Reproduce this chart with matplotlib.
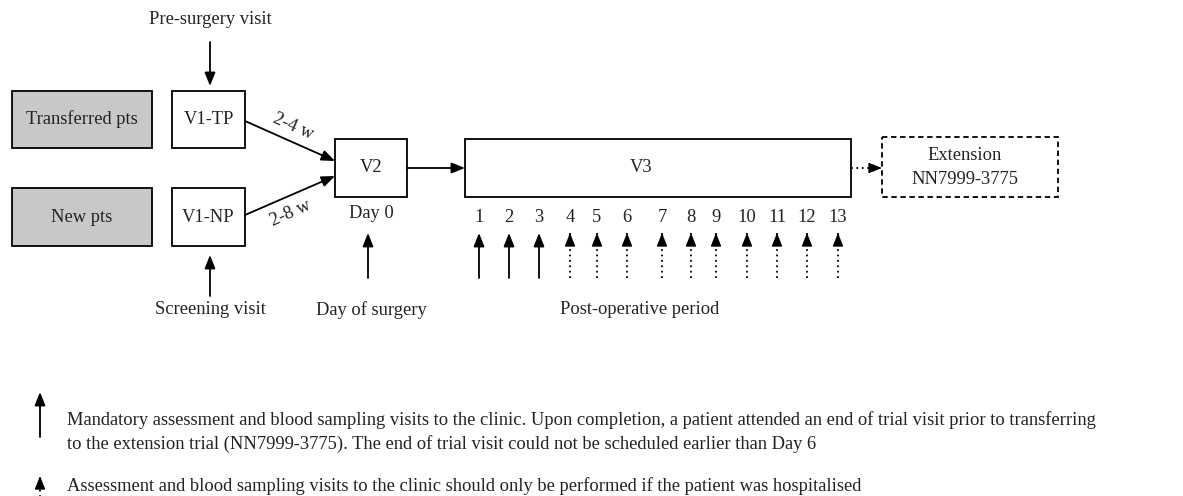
import matplotlib.pyplot as plt
from matplotlib.patches import Rectangle

plt.rcParams['font.family'] = ['Liberation Serif', 'DejaVu Serif']

# labels of the flow chart
group_labels = ['Transferred pts', 'New pts']
v1_labels = ['V1-TP', 'V1-NP']
interval_labels = ['2-4 w', '2-8 w']
visit_numbers = list(range(1, 14))
mandatory = [True, True, True] + [False] * 10
bottom_labels = ['Screening visit', 'Day of surgery', 'Post-operative period']
legend_text = [
    'Mandatory assessment and blood sampling visits to the clinic. Upon completion, '
    'a patient attended an end of trial visit prior to transferring\n'
    'to the extension trial (NN7999-3775). The end of trial visit could not be scheduled earlier than Day 6',
    'Assessment and blood sampling visits to the clinic should only be performed if the patient was hospitalised',
]

fig = plt.figure(figsize=(11.83, 4.96), dpi=100)
ax = fig.add_axes([0, 0, 1, 1])
ax.set_xlim(0, 1183)
ax.set_ylim(496, 0)
ax.axis('off')

FS = 13.3
TC = '#222222'


def box(x0, y0, x1, y1, fc='white', ls='-'):
    ax.add_patch(Rectangle((x0, y0), x1 - x0, y1 - y0, fc=fc, ec='black', lw=1.3, ls=ls))


def arrow(x0, y0, x1, y1, ls='-'):
    if ls == '-':
        ax.annotate('', xy=(x1, y1), xytext=(x0, y0),
                    arrowprops=dict(arrowstyle='-|>,head_length=0.5,head_width=0.2',
                                    color='black', lw=1.3,
                                    mutation_scale=16, shrinkA=0, shrinkB=0))
    else:
        # dotted shaft, solid head
        ax.plot([x0, x1], [y0, y1], color='black', lw=1.3, ls=(0, (1, 2)))
        dx, dy = x1 - x0, y1 - y0
        n = (dx ** 2 + dy ** 2) ** 0.5
        ax.annotate('', xy=(x1, y1), xytext=(x1 - dx / n * 10, y1 - dy / n * 10),
                    arrowprops=dict(arrowstyle='-|>,head_length=0.5,head_width=0.2',
                                    color='black', lw=1.0,
                                    mutation_scale=16, shrinkA=0, shrinkB=0))


# left groups and V1 boxes
rows = [(91, 148), (188, 246)]
for (y0, y1), g, v in zip(rows, group_labels, v1_labels):
    box(12, y0, 152, y1, fc='#c8c8c8')
    ax.text(82, (y0 + y1) / 2, g, ha='center', va='center', fontsize=FS, color=TC)
    box(172, y0, 245, y1)
    ax.text(208.5, (y0 + y1) / 2, v, ha='center', va='center', fontsize=FS, color=TC)

ax.text(210, 20, 'Pre-surgery visit', ha='center', va='center', fontsize=FS, color=TC)
arrow(210, 42, 210, 86)
arrow(210, 296, 210, 255)

# V2
box(335, 139, 407, 197)
ax.text(371, 168, 'V2', ha='center', va='center', fontsize=FS, color=TC)
arrow(245, 121, 335, 161)
arrow(245, 215, 335, 176)
ax.text(293, 127, interval_labels[0], ha='center', va='center', fontsize=FS, rotation=-24, color=TC)
ax.text(291, 213, interval_labels[1], ha='center', va='center', fontsize=FS, rotation=24, color=TC)
ax.text(371, 214, 'Day 0', ha='center', va='center', fontsize=FS, color=TC)
arrow(368, 278, 368, 233)

# V3
arrow(407, 168, 465, 168)
box(465, 139, 851, 197)
ax.text(641, 168, 'V3', ha='center', va='center', fontsize=FS, color=TC)

# post-operative visits
visit_x = [479, 509, 539, 570, 597, 627, 662, 691, 716, 747, 777, 807, 838]
for n, x, m in zip(visit_numbers, visit_x, mandatory):
    ax.text(x, 218, str(n), ha='center', va='center', fontsize=FS, color=TC)
    arrow(x, 278, x, 233, ls='-' if m else ':')

# extension
arrow(851, 168, 882, 168, ls=':')
box(882, 137, 1058, 197, ls=(0, (3, 2)))
ax.text(965, 156, 'Extension', ha='center', va='center', fontsize=FS, color=TC)
ax.text(965, 180, 'NN7999-3775', ha='center', va='center', fontsize=FS, color=TC)

for x, lab in zip([210, 371, 640], bottom_labels):
    ax.text(x, 310, lab, ha='center', va='center', fontsize=FS, color=TC)

# legend
arrow(40, 437, 40, 392)
ax.text(67, 432, legend_text[0], ha='left', va='center', fontsize=FS, linespacing=1.45, color=TC)
arrow(40, 497, 40, 476, ls=':')
ax.text(67, 486, legend_text[1], ha='left', va='center', fontsize=FS, color=TC)

fig.savefig('out.png', dpi=100)
